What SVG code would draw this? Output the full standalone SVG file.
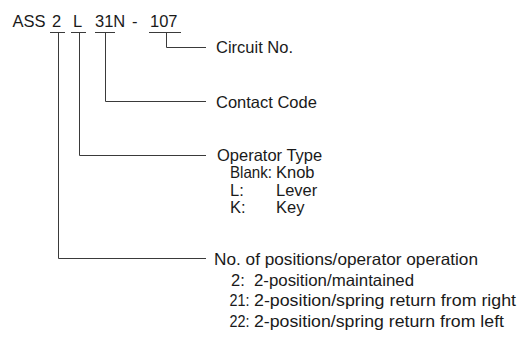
<svg xmlns="http://www.w3.org/2000/svg" width="521" height="343" viewBox="0 0 521 343">
<style>
text{font-family:"Liberation Sans",Arial,sans-serif;font-size:16.5px;fill:#1a1a1a}
.ln{stroke:#3a3a3a;stroke-width:1;fill:none}
</style>
<rect width="521" height="343" fill="#fff"/>
<g id="code">
<text y="26.5"><tspan x="12.5">ASS</tspan><tspan x="52">2</tspan><tspan x="73">L</tspan><tspan x="95">31N</tspan><tspan x="132">-</tspan><tspan x="150">107</tspan></text>
</g>
<g id="connectors" class="ln">
<path d="M50 32.5H65M71 32.5H86M95 32.5H115M149 32.5H181"/>
<path d="M58.5 32.5V258.5H206"/>
<path d="M79.5 32.5V155.5H206"/>
<path d="M105.5 32.5V101.5H206"/>
<path d="M166.5 32.5V47.5H206"/>
</g>
<g id="circuit"><text x="216" y="53">Circuit No.</text></g>
<g id="contact"><text x="216" y="107.5">Contact Code</text></g>
<g id="operator">
<text x="217" y="161">Operator Type</text>
<text x="230" y="178" textLength="42" lengthAdjust="spacingAndGlyphs">Blank:</text>
<text x="276" y="178">Knob</text>
<text x="230" y="195.5">L:</text>
<text x="276" y="195.5">Lever</text>
<text x="230" y="213">K:</text>
<text x="276" y="213">Key</text>
</g>
<g id="positions">
<text x="214" y="265" textLength="264" lengthAdjust="spacingAndGlyphs">No. of positions/operator operation</text>
<text x="231" y="285.5">2:</text>
<text x="254" y="285.5" textLength="160" lengthAdjust="spacingAndGlyphs">2-position/maintained</text>
<text x="229.5" y="306" textLength="20" lengthAdjust="spacingAndGlyphs">21:</text>
<text x="254" y="306" textLength="262" lengthAdjust="spacingAndGlyphs">2-position/spring return from right</text>
<text x="229.5" y="326.5" textLength="20" lengthAdjust="spacingAndGlyphs">22:</text>
<text x="254" y="326.5" textLength="250" lengthAdjust="spacingAndGlyphs">2-position/spring return from left</text>
</g>
</svg>
